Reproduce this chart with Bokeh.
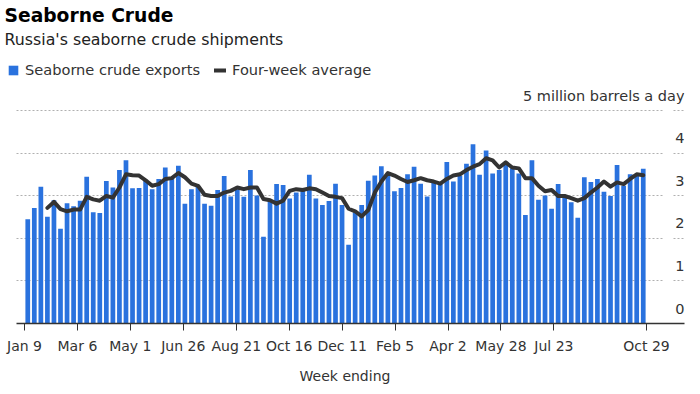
import math
import pandas as pd
from bokeh.plotting import figure
from bokeh.models import Range1d, FixedTicker, Title, Legend, LegendItem, Grid
from bokeh.core.properties import value
from bokeh.embed import file_html
from bokeh.resources import INLINE

# ---- data ----
week_ending = pd.date_range("2022-01-09", periods=95, freq="7D")

exports = [2.45, 2.72, 3.22, 2.51, 2.90, 2.23, 2.83, 2.76, 2.89, 3.45,
           2.62, 2.60, 3.35, 3.20, 3.61, 3.84, 3.18, 3.19, 3.37, 3.16,
           3.40, 3.67, 3.40, 3.71, 2.82, 3.16, 3.22, 2.82, 2.77, 3.14,
           3.47, 2.99, 3.16, 2.98, 3.61, 3.01, 2.04, 2.89, 3.28, 3.26,
           2.94, 3.08, 3.12, 3.50, 2.94, 2.79, 2.88, 3.29, 2.79, 1.85,
           2.61, 2.79, 3.36, 3.48, 3.70, 3.51, 3.11, 3.19, 3.51, 3.69,
           3.29, 2.99, 3.32, 3.30, 3.80, 3.34, 3.48, 3.76, 4.22, 3.50,
           4.07, 3.53, 3.61, 3.75, 3.65, 3.53, 2.55, 3.84, 2.91, 3.01,
           2.70, 3.28, 2.98, 2.85, 2.49, 3.44, 3.33, 3.40, 3.10, 3.00,
           3.73, 3.24, 3.51, 3.51, 3.64]

nan = float("nan")
four_week_avg = [nan, nan, nan, 2.72, 2.86, 2.69, 2.64, 2.68, 2.68, 2.98,
                 2.92, 2.89, 3.00, 2.96, 3.20, 3.51, 3.49, 3.48, 3.37, 3.24,
                 3.28, 3.40, 3.42, 3.54, 3.44, 3.29, 3.24, 3.03, 3.00, 3.00,
                 3.08, 3.12, 3.20, 3.16, 3.20, 3.20, 2.93, 2.90, 2.82, 2.89,
                 3.12, 3.16, 3.14, 3.18, 3.16, 3.08, 3.00, 2.98, 2.95, 2.70,
                 2.64, 2.52, 2.67, 3.08, 3.34, 3.54, 3.48, 3.40, 3.33, 3.37,
                 3.42, 3.37, 3.34, 3.29, 3.40, 3.48, 3.51, 3.61, 3.69, 3.75,
                 3.89, 3.84, 3.67, 3.79, 3.67, 3.65, 3.42, 3.42, 3.24, 3.11,
                 3.14, 3.00, 3.00, 2.95, 2.89, 2.95, 3.08, 3.20, 3.34, 3.22,
                 3.32, 3.28, 3.40, 3.51, 3.49]

tick_dates = ["2022-01-09", "2022-03-06", "2022-05-01", "2022-06-26",
              "2022-08-21", "2022-10-16", "2022-12-11", "2023-02-05",
              "2023-04-02", "2023-05-28", "2023-07-23", "2023-10-29"]
tick_labels = ["Jan 9", "Mar 6", "May 1", "Jun 26", "Aug 21", "Oct 16",
               "Dec 11", "Feb 5", "Apr 2", "May 28", "Jul 23", "Oct 29"]

y_ticks = [0, 1, 2, 3, 4, 5]
y_tick_labels = ["0", "1", "2", "3", "4", "5 million barrels a day"]

# ---- styling ----
FONT = "DejaVu Sans"
BAR_COLOR = "#2a72de"
LINE_COLOR = "#333333"
TEXT_COLOR = "#333333"

n = len(exports)
idx = list(range(n))

# date scale for the ticks spans the bar band edges
first = week_ending[0]
tick_weeks = [(pd.Timestamp(d) - first).days / 7 for d in tick_dates]
tick_pos = [round(-0.5 + k * n / (n - 1), 3) for k in tick_weeks]

x_start, x_end = -3.40, 100.3      # visible frame (legend needs the left room)
axis_start = -1.72                 # where axis line and grid lines begin
grid_gap = (96.94, 98.61)          # small break in the grid lines before the labels
y_start, y_end = 0, 6.47

p = figure(width=700, height=394,
           x_range=Range1d(x_start, x_end), y_range=Range1d(y_start, y_end),
           output_backend="svg", toolbar_location=None,
           y_axis_location=None,
           min_border_left=5, min_border_right=16,
           min_border_bottom=71, min_border_top=0)
p.outline_line_color = None
p.background_fill_color = "white"

# drop the default grids, use dotted horizontal ones only
p.center = [r for r in p.center if not isinstance(r, Grid)]

grid_ticker = FixedTicker(ticks=[t for t in y_ticks if t > 0])
grid_style = dict(grid_line_color="#b0b0b0", grid_line_dash="2 2", grid_line_width=1)
if "cross_bounds" in Grid.properties():
    for cb in [(axis_start, grid_gap[0]), (grid_gap[1], x_end)]:
        p.add_layout(Grid(dimension=1, ticker=grid_ticker, cross_bounds=cb, **grid_style))
else:
    p.add_layout(Grid(dimension=1, ticker=grid_ticker, **grid_style))

bars = p.vbar(x=idx, top=exports, width=0.72, fill_color=BAR_COLOR, line_color=None)
line = p.line(x=idx, y=four_week_avg, line_color=LINE_COLOR, line_width=4,
              line_join="round", line_cap="round")

p.text(x=[x_end] * len(y_ticks), y=y_ticks, text=y_tick_labels,
       text_align="right", text_baseline="alphabetic", y_offset=-15,
       text_font=value(FONT), text_font_size="14.5px", text_color=TEXT_COLOR)

ax = p.xaxis[0]
ax.bounds = (axis_start, x_end)
ax.ticker = FixedTicker(ticks=tick_pos)
ax.major_label_overrides = {pos: lab for pos, lab in zip(tick_pos, tick_labels)}
ax.minor_tick_line_color = None
ax.major_tick_in = 0
ax.major_tick_out = 7
ax.major_tick_line_color = "#333333"
ax.axis_line_color = "#333333"
ax.axis_line_width = 1.3
ax.major_label_standoff = 7
ax.major_label_text_font = FONT
ax.major_label_text_font_size = "14px"
ax.major_label_text_color = TEXT_COLOR
ax.axis_label = "Week ending"
ax.axis_label_text_font = FONT
ax.axis_label_text_font_size = "14px"
ax.axis_label_text_font_style = "normal"
ax.axis_label_text_color = TEXT_COLOR
ax.axis_label_standoff = 11

legend = Legend(items=[LegendItem(label="Seaborne crude exports", renderers=[bars]),
                       LegendItem(label="Four-week average", renderers=[line])],
                orientation="horizontal", location=(2, 245),
                margin=0, padding=0, spacing=14, glyph_width=12, glyph_height=12,
                label_standoff=6, label_text_font=FONT, label_text_font_size="14.6px",
                label_text_color=TEXT_COLOR, border_line_color=None,
                background_fill_alpha=0)
p.add_layout(legend)

subtitle = Title(text="Russia's seaborne crude shipments", align="left", offset=-1,
                 text_font=FONT, text_font_size="15.8px", text_font_style="normal",
                 text_color="#222222", standoff=0)
p.add_layout(subtitle, "above")

title = Title(text="Seaborne Crude", align="left", offset=-1,
              text_font=FONT, text_font_size="18.7px", text_font_style="bold",
              text_color="#000000", standoff=4)
p.add_layout(title, "above")

open("out.html", "w").write(file_html(p, INLINE))
